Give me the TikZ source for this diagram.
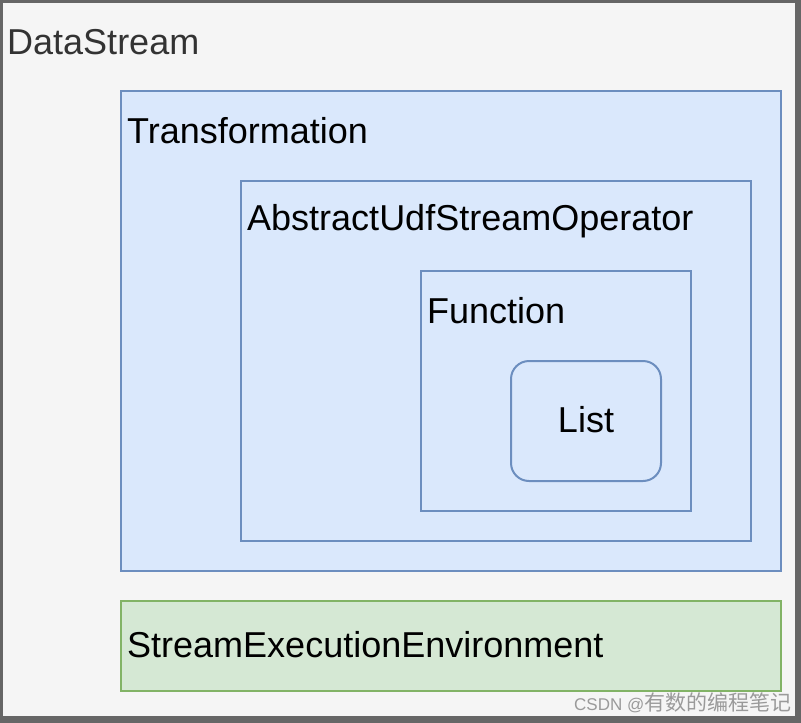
\documentclass[tikz,border=0pt]{standalone}
\usepackage{fontspec}
\setmainfont{Liberation Sans}
\newfontfamily\cjkfont{Noto Sans CJK SC}
\definecolor{frameg}{HTML}{666666}
\definecolor{bgg}{HTML}{F5F5F5}
\definecolor{txtg}{HTML}{333333}
\definecolor{bluestroke}{HTML}{6C8EBF}
\definecolor{bluefill}{HTML}{DAE8FC}
\definecolor{greenstroke}{HTML}{82B366}
\definecolor{greenfill}{HTML}{D5E8D4}
\definecolor{wmark}{HTML}{9A9A9A}
\tikzset{
  bluebox/.style={draw=bluestroke, fill=bluefill, line width=2pt},
  greenbox/.style={draw=greenstroke, fill=greenfill, line width=2pt},
  lbl/.style={anchor=west, inner sep=0pt, font=\fontsize{36}{40}\selectfont},
}
\begin{document}
\begin{tikzpicture}[x=1pt,y=-1pt]
\useasboundingbox (0,0) rectangle (801,723);
\fill[frameg] (0,0) rectangle (801,723);
\fill[bgg] (3,3) rectangle (795,716);
\draw[bluebox] (121,91) rectangle (781,571);
\draw[bluebox] (241,181) rectangle (751,541);
\draw[bluebox] (421,271) rectangle (691,511);
\draw[bluebox, rounded corners=18pt] (511,361) rectangle (661,481);
\draw[greenbox] (121,601) rectangle (781,691);
\node[lbl, text=txtg] (ds) at (7,42) {DataStream};
\node[lbl] (trl) at (127,131) {Transformation};
\node[lbl] (aul) at (247,221) {AbstractUdfStreamOperator};
\node[lbl] (fnl) at (427,311) {Function};
\node[inner sep=0pt, font=\fontsize{36}{40}\selectfont] (lst) at (586,420) {List};
\node[lbl] (sel) at (127,645) {StreamExecutionEnvironment};
\node[anchor=west, inner sep=0pt, text=wmark] (wm) at (574,703) {\fontsize{17}{20}\selectfont CSDN @\cjkfont\fontsize{21}{24}\selectfont 有数的编程笔记};
\end{tikzpicture}
\end{document}
